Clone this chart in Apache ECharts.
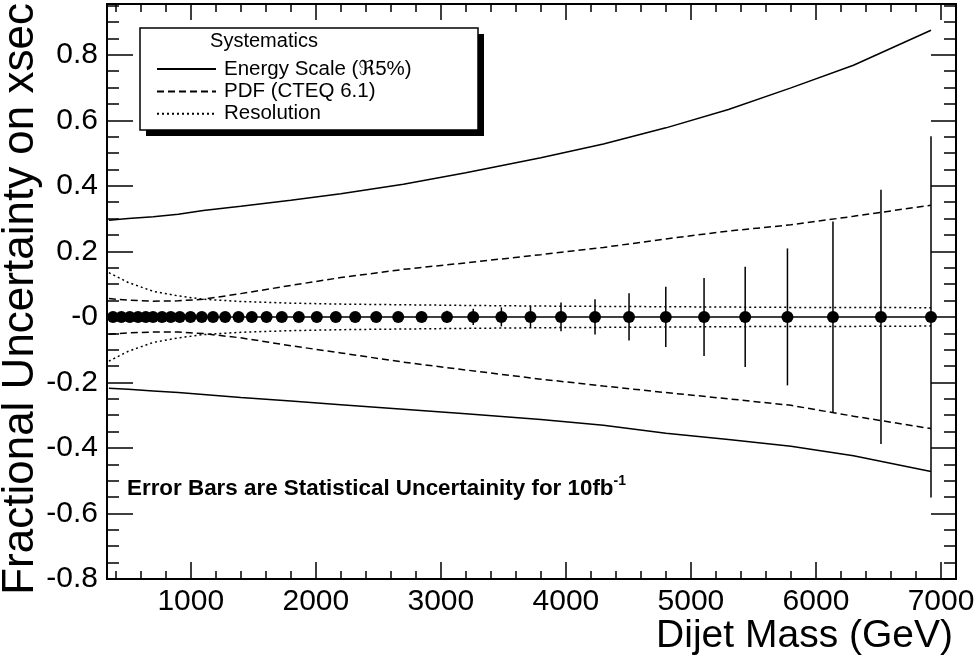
<!DOCTYPE html>
<html>
<head>
<meta charset="utf-8">
<script src="https://cdn.jsdelivr.net/npm/echarts@6/dist/echarts.min.js"></script>
<style>
  html, body { margin: 0; padding: 0; background: #fff; }
  #chart { width: 980px; height: 657px; }
</style>
</head>
<body>
<div id="chart"></div>
<script>
const FONT = '"Liberation Sans", Arial, Helvetica, "DejaVu Sans", sans-serif';

// Dijet mass bin centres (GeV) and the relative cross-section points
const massPoints = [378, 445, 512, 578, 640, 698, 770, 840, 912, 998,
  1088, 1178, 1275, 1382, 1488, 1606, 1728, 1864, 2008, 2160,
  2315, 2483, 2659, 2846, 3049, 3259, 3484, 3717, 3961, 4233,
  4505, 4799, 5105, 5434, 5772, 6136, 6520, 6920];
const centralValues = [0, 0, 0, 0, 0, 0, 0, 0, 0, 0,
  0, 0, 0, 0, 0, 0, 0, 0, 0, 0,
  0, 0, 0, 0, 0, 0, 0, 0, 0, 0,
  0, 0, 0, 0, 0, 0, 0, 0];
// statistical uncertainty for 10 fb^-1
const statErrors = [0.002, 0.002, 0.002, 0.003, 0.003, 0.003, 0.003, 0.004, 0.004, 0.004,
  0.005, 0.005, 0.005, 0.006, 0.006, 0.007, 0.007, 0.008, 0.009, 0.010,
  0.011, 0.012, 0.014, 0.016, 0.019, 0.025, 0.029, 0.033, 0.044, 0.054,
  0.072, 0.092, 0.119, 0.153, 0.209, 0.291, 0.388, 0.551];

// Systematic bands sampled in dijet mass
const sysMass = [345, 500, 700, 900, 1100, 1400, 1800, 2200, 2700, 3200,
  3800, 4300, 4800, 5300, 5800, 6300, 6920];
const energyScaleUp = [0.295, 0.300, 0.306, 0.313, 0.325, 0.338, 0.356, 0.376, 0.405, 0.440,
  0.486, 0.528, 0.577, 0.633, 0.699, 0.768, 0.875];
const energyScaleDown = [-0.218, -0.221, -0.226, -0.231, -0.237, -0.246, -0.257, -0.268, -0.282, -0.296,
  -0.313, -0.331, -0.355, -0.374, -0.395, -0.424, -0.472];
const pdfUp = [0.056, 0.051, 0.048, 0.049, 0.054, 0.071, 0.096, 0.120, 0.145, 0.165,
  0.190, 0.212, 0.238, 0.262, 0.281, 0.307, 0.341];
const pdfDown = [-0.053, -0.049, -0.046, -0.046, -0.051, -0.064, -0.088, -0.110, -0.138, -0.162,
  -0.190, -0.211, -0.231, -0.250, -0.270, -0.303, -0.341];
const resolutionUp = [0.135, 0.105, 0.078, 0.064, 0.054, 0.047, 0.042, 0.039, 0.037, 0.035,
  0.033, 0.032, 0.031, 0.030, 0.029, 0.029, 0.028];
const resolutionDown = [-0.135, -0.105, -0.078, -0.064, -0.054, -0.047, -0.042, -0.039, -0.037, -0.035,
  -0.033, -0.032, -0.031, -0.030, -0.029, -0.029, -0.028];

// Axis ticks and labels
const xMajorTicks = [1000, 2000, 3000, 4000, 5000, 6000, 7000];
const xMinorTicks = [400, 600, 800, 1200, 1400, 1600, 1800, 2200, 2400, 2600, 2800,
  3200, 3400, 3600, 3800, 4200, 4400, 4600, 4800, 5200, 5400, 5600, 5800,
  6200, 6400, 6600, 6800];
const yMajorTicks = [-0.8, -0.6, -0.4, -0.2, 0, 0.2, 0.4, 0.6, 0.8];
const yTickLabels = ['-0.8', '-0.6', '-0.4', '-0.2', '-0', '0.2', '0.4', '0.6', '0.8'];
const yMinorTicks = [-0.75, -0.7, -0.65, -0.55, -0.5, -0.45, -0.35, -0.3, -0.25,
  -0.15, -0.1, -0.05, 0.05, 0.1, 0.15, 0.25, 0.3, 0.35, 0.45, 0.5, 0.55,
  0.65, 0.7, 0.75, 0.85, 0.9, 0.95];

const X_RANGE = [330, 7120];
const Y_RANGE = [-0.8, 0.955];

const NAME_ES = 'Energy Scale (\u211C5%)';
const NAME_PDF = 'PDF (CTEQ 6.1)';
const NAME_RES = 'Resolution';

function pairs(xs, ys) { return xs.map((x, i) => [x, ys[i]]); }

function frameAxis(dim, position, ticks, length, labelled) {
  const range = dim === 'x' ? X_RANGE : Y_RANGE;
  const ax = {
    type: 'value',
    position: position,
    min: range[0],
    max: range[1],
    axisLine: { show: true, onZero: false, lineStyle: { color: '#000', width: 2 } },
    axisTick: { show: true, inside: true, length: length, customValues: ticks,
      lineStyle: { color: '#000', width: 1.5 } },
    splitLine: { show: false },
    minorTick: { show: false },
    axisLabel: { show: false }
  };
  if (labelled) {
    ax.axisLabel = {
      show: true,
      customValues: ticks,
      color: '#000',
      fontFamily: FONT,
      fontSize: 30,
      margin: dim === 'x' ? 8 : 9,
      formatter: dim === 'x'
        ? (v) => String(Math.round(v))
        : (v) => {
            const k = yMajorTicks.findIndex(t => Math.abs(t - v) < 1e-6);
            return k >= 0 ? yTickLabels[k] : '';
          }
    };
  }
  return ax;
}

const lineSeries = (name, xs, ys, type) => ({
  name: name,
  type: 'line',
  xAxisIndex: 0,
  yAxisIndex: 0,
  data: pairs(xs, ys),
  symbol: 'none',
  silent: true,
  z: 3,
  itemStyle: { color: '#000' },
  lineStyle: { color: '#000', width: 1.5, type: type }
});

const chart = echarts.init(document.getElementById('chart'), null, { renderer: 'canvas' });

chart.setOption({
  animation: false,
  backgroundColor: '#fff',
  grid: { left: 107, right: 24, top: 4, bottom: 78, containLabel: false },
  xAxis: [
    frameAxis('x', 'bottom', xMajorTicks, 17, true),
    frameAxis('x', 'bottom', xMinorTicks, 8, false),
    frameAxis('x', 'top', xMajorTicks, 16, false),
    frameAxis('x', 'top', xMinorTicks, 8, false)
  ],
  yAxis: [
    frameAxis('y', 'left', yMajorTicks, 26, true),
    frameAxis('y', 'left', yMinorTicks, 12, false),
    frameAxis('y', 'right', yMajorTicks, 25, false),
    frameAxis('y', 'right', yMinorTicks, 12, false)
  ],
  legend: {
    show: true,
    data: [NAME_ES, NAME_PDF, NAME_RES],
    orient: 'vertical',
    left: 151,
    top: 53.5,
    itemWidth: 59,
    itemHeight: 14,
    itemGap: 1.4,
    selectedMode: false,
    z: 10,
    itemStyle: { opacity: 0 },
    textStyle: { color: '#000', fontFamily: FONT, fontSize: 20.5, padding: [0, 0, 0, 3] }
  },
  graphic: [
    { type: 'rect', z: 1, shape: { x: 146, y: 34, width: 338, height: 102 }, style: { fill: '#000' } },
    { type: 'rect', z: 2, shape: { x: 140, y: 28, width: 338, height: 102 },
      style: { fill: '#fff', stroke: '#000', lineWidth: 1.5 } },
    { type: 'text', z: 3, x: 264, y: 41,
      style: { text: 'Systematics', fill: '#000', font: '20px ' + FONT, align: 'center', verticalAlign: 'middle' } },
    { type: 'text', z: 3, x: 953, y: 636,
      style: { text: 'Dijet Mass (GeV)', fill: '#000', font: '39px ' + FONT, align: 'right', verticalAlign: 'middle' } },
    { type: 'text', z: 3, x: 21, y: 3, rotation: Math.PI / 2,
      style: { text: 'Fractional Uncertainty on xsec', fill: '#000', font: '44px ' + FONT, align: 'right', verticalAlign: 'middle' } },
    { type: 'text', z: 3, x: 127, y: 487,
      style: {
        text: '{m|Error Bars are Statistical Uncertainity for 10fb}{s|-1}',
        verticalAlign: 'middle',
        rich: {
          m: { fill: '#000', fontFamily: FONT, fontWeight: 'bold', fontSize: 22.4, lineHeight: 26, verticalAlign: 'bottom' },
          s: { fill: '#000', fontFamily: FONT, fontWeight: 'bold', fontSize: 14, lineHeight: 26, verticalAlign: 'top' }
        }
      } }
  ],
  series: [
    lineSeries(NAME_ES, sysMass, energyScaleUp, 'solid'),
    lineSeries(NAME_ES, sysMass, energyScaleDown, 'solid'),
    lineSeries(NAME_PDF, sysMass, pdfUp, [7, 4]),
    lineSeries(NAME_PDF, sysMass, pdfDown, [7, 4]),
    lineSeries(NAME_RES, sysMass, resolutionUp, [2, 3]),
    lineSeries(NAME_RES, sysMass, resolutionDown, [2, 3]),
    {
      name: 'stat',
      type: 'custom',
      xAxisIndex: 0,
      yAxisIndex: 0,
      silent: true,
      z: 4,
      data: massPoints.map((m, i) => [m, centralValues[i], statErrors[i]]),
      renderItem: function (params, api) {
        const x = api.value(0), v = api.value(1), e = api.value(2);
        const p1 = api.coord([x, v - e]);
        const p2 = api.coord([x, v + e]);
        return {
          type: 'line',
          shape: { x1: p1[0], y1: p1[1], x2: p2[0], y2: p2[1] },
          style: { stroke: '#000', lineWidth: 1.5 }
        };
      }
    },
    {
      name: 'data',
      type: 'line',
      xAxisIndex: 0,
      yAxisIndex: 0,
      silent: true,
      z: 5,
      data: pairs(massPoints, centralValues),
      symbol: 'circle',
      symbolSize: 12,
      itemStyle: { color: '#000' },
      lineStyle: { color: '#000', width: 1.5 }
    }
  ]
});
</script>
</body>
</html>
